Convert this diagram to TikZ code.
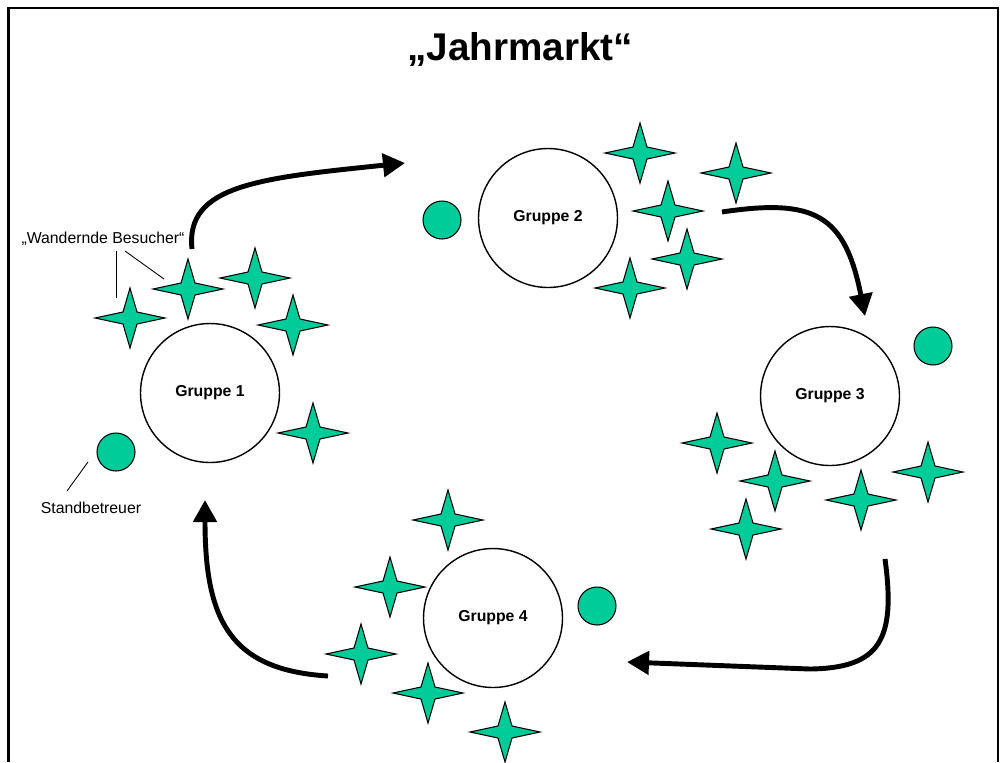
\documentclass[tikz,border=0pt]{standalone}
\usepackage{fontspec}
\setmainfont{Liberation Sans}
\usepackage{tikz}
\usetikzlibrary{shapes,arrows.meta,calc}
\usepackage{xcolor}
\definecolor{standgruen}{HTML}{00CC99}
\tikzstyle{gruppe} = [circle, draw, line width=0.8pt, fill=white, minimum size=2.78cm, inner sep=0pt, font=\fontsize{9}{11}\selectfont\bfseries]
\tikzstyle{betreuer} = [circle, draw, line width=0.6pt, fill=standgruen, minimum size=0.76cm, inner sep=0pt]
\tikzstyle{line} = [draw, line width=2.8pt, -{Triangle[length=0.44cm, width=0.46cm]}]
\tikzstyle{hinweis} = [draw, line width=0.5pt]
\tikzstyle{beschriftung} = [font=\fontsize{9}{11}\selectfont, inner sep=0pt, anchor=base]
\tikzstyle{rahmen} = [draw, line width=1.5pt]
\tikzset{besucher/.pic={\filldraw[fill=standgruen, draw=black, line width=0.6pt] (-35,0) -- (-7,-6) -- (0,-30) -- (7,-6) -- (35,0) -- (7,6) -- (0,30) -- (-7,6) -- cycle;}}

\begin{document}
\begin{tikzpicture}[x=0.02cm, y=-0.02cm]
		\useasboundingbox (0,0) rectangle (1000,762);
		\path [rahmen] (8.5,762) -- (8.5,8) -- (998,8) -- (998,762);
		
		% Place nodes
		\node [font=\fontsize{22}{26}\selectfont\bfseries, inner sep=0pt, anchor=base] (titel) at (520,60) {„Jahrmarkt“};
		\node [gruppe] (g1) at (210,393) {Gruppe 1};
		\node [gruppe] (g2) at (548,218) {Gruppe 2};
		\node [gruppe] (g3) at (830,396) {Gruppe 3};
		\node [gruppe] (g4) at (493,618) {Gruppe 4};
		
		\node [betreuer] (b1) at (116,452) {};
		\node [betreuer] (b2) at (442,220) {};
		\node [betreuer] (b3) at (933,346) {};
		\node [betreuer] (b4) at (597,606) {};
		
		% Besucher
		\pic (s11) at (130,318) {besucher};
		\pic (s12) at (188,289) {besucher};
		\pic (s13) at (255,278) {besucher};
		\pic (s14) at (293,325) {besucher};
		\pic (s15) at (313,433) {besucher};
		
		\pic (s21) at (640,153) {besucher};
		\pic (s22) at (736,173) {besucher};
		\pic (s23) at (668,211) {besucher};
		\pic (s24) at (687,259) {besucher};
		\pic (s25) at (630,288) {besucher};
		
		\pic (s31) at (717,443) {besucher};
		\pic (s32) at (775,481) {besucher};
		\pic (s33) at (861,500) {besucher};
		\pic (s34) at (928,472) {besucher};
		\pic (s35) at (746,529) {besucher};
		
		\pic (s41) at (448,520) {besucher};
		\pic (s42) at (390,587) {besucher};
		\pic (s43) at (361,654) {besucher};
		\pic (s44) at (428,693) {besucher};
		\pic (s45) at (505,732) {besucher};
		
		% Labels
		\node [beschriftung] (wandernd) at (103,243) {„Wandernde Besucher“};
		\node [beschriftung] (stand) at (91,513) {Standbetreuer};
		\coordinate (w1a) at (116,251);
		\coordinate (w1b) at (116,298);
		\coordinate (w2a) at (125,251);
		\coordinate (w2b) at (164,279);
		\coordinate (st1) at (88,462);
		\coordinate (st2) at (67,491);
		\path [hinweis] (w1a) -- (w1b);
		\path [hinweis] (w2a) -- (w2b);
		\path [hinweis] (st1) -- (st2);
		
		% Draw edges
		\coordinate (p1a) at (192,249);
		\coordinate (p1b) at (405,163);
		\coordinate (p2a) at (722,212);
		\coordinate (p2b) at (865,316);
		\coordinate (p3a) at (885,559);
		\coordinate (p3b) at (627,662);
		\coordinate (p4a) at (328,676);
		\coordinate (p4b) at (205,500);
		\path [line] (p1a) .. controls (185,185) and (260,178) .. (p1b);
		\path [line] (p2a) .. controls (815,198) and (845,215) .. (p2b);
		\path [line] (p3a) .. controls (896,640) and (880,668) .. (810,669) -- (p3b);
		\path [line] (p4a) .. controls (230,670) and (205,620) .. (p4b);
	\end{tikzpicture}
\end{document}
